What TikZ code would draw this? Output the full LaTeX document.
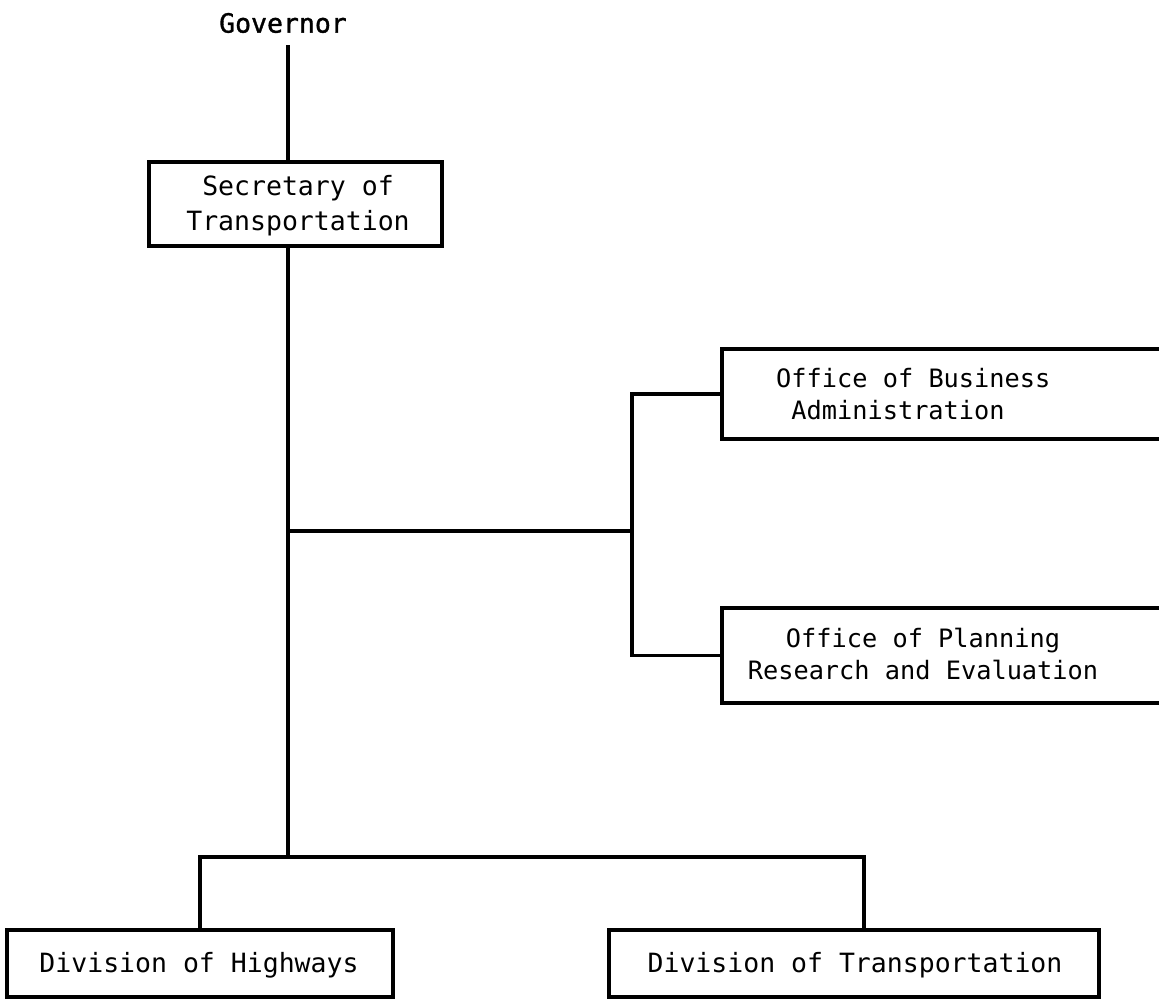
\documentclass[tikz,border=0pt]{standalone}
\usepackage{fontspec}
\newfontfamily\tw{DejaVu Sans Mono}
\newfontfamily\twb[FakeBold=1.3]{DejaVu Sans Mono}
\begin{document}
\begin{tikzpicture}[x=1pt,y=-1pt,
  ln/.style={line width=3.4pt},
  orgbox/.style={draw, line width=3.4pt, inner sep=0pt, rectangle},
  bigtxt/.style={font=\tw\fontsize{26.5}{35}\selectfont, inner sep=0pt, align=center},
  smalltxt/.style={font=\tw\fontsize{25.3}{32}\selectfont, inner sep=0pt}
]
\clip (0,0) rectangle (1159,999);
\fill[white] (0,0) rectangle (1159,999);

% Governor
\node[bigtxt, font=\twb\fontsize{26.5}{35}\selectfont, inner ysep=12pt] (gov) at (283,23) {Governor};

% Secretary
\node[orgbox, minimum width=293pt, minimum height=84pt] (sec) at (295.5,204) {};
\node[bigtxt] (sect) at (298,206) {Secretary of\\Transportation};

% Offices
\node[orgbox, minimum width=458pt, minimum height=90pt] (oba) at (951,394) {};
\node[smalltxt, align=left, anchor=west] (obat) at (776,394) {Office of Business\\\hspace*{15.2pt}Administration};
\node[orgbox, minimum width=458pt, minimum height=95pt] (opre) at (951,655.5) {};
\node[smalltxt, align=center] (opret) at (923,654) {Office of Planning\\Research and Evaluation};

% Divisions
\node[orgbox, minimum width=386pt, minimum height=67pt] (doh) at (200,963.5) {};
\node[bigtxt] (doht) at (199,965) {Division of Highways};
\node[orgbox, minimum width=490pt, minimum height=67pt] (dot) at (854,963.5) {};
\node[bigtxt] (dott) at (855,965) {Division of Transportation};

% junctions
\coordinate (j1) at (288,531);
\coordinate (j2) at (632,531);
\coordinate (bus) at (288,857);
\coordinate (dotdrop) at ([xshift=10pt]dot.north);

% connectors
\draw[ln] (gov.south -| j1) -- (sec.north -| j1);
\draw[ln] (sec.south -| j1) -- (bus);
\draw[ln] (j1) -- (j2);
\draw[ln] (oba.west) -| (j2) |- (opre.west);
\draw[ln] (doh.north) -- (doh.north |- bus) -- (bus -| dotdrop) -- (dotdrop);
\end{tikzpicture}
\end{document}
